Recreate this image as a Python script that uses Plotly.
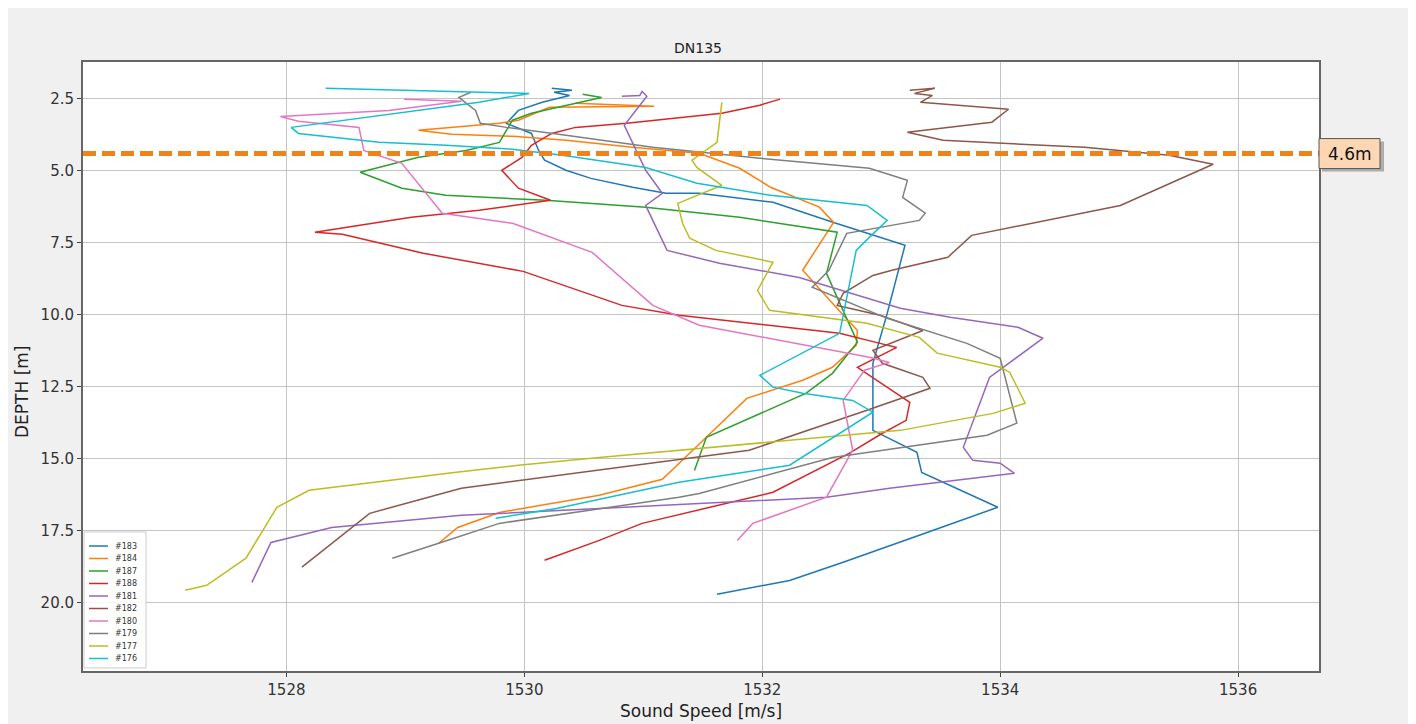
import plotly.graph_objects as go

# ---------------- data ----------------
cast_names = ["#183", "#184", "#187", "#188", "#181", "#182", "#180", "#179", "#177", "#176"]
cast_colors = ["#1f77b4", "#ff7f0e", "#2ca02c", "#d62728", "#9467bd",
               "#8c564b", "#e377c2", "#7f7f7f", "#bcbd22", "#17becf"]

speed_183 = [1530.23, 1530.40, 1530.25, 1530.38, 1530.15, 1529.95, 1529.85, 1530.06, 1530.12, 1530.17,
             1530.35, 1530.56, 1530.91, 1531.19, 1531.47, 1531.81, 1532.09, 1532.60, 1533.20, 1533.05,
             1532.93, 1532.93, 1533.30, 1533.34, 1533.98, 1533.32, 1532.68, 1532.23, 1531.62]
depth_183 = [2.15, 2.22, 2.29, 2.40, 2.64, 2.92, 3.37, 3.72, 4.31, 4.65,
             5.00, 5.28, 5.59, 5.80, 5.80, 5.97, 6.11, 6.81, 7.60, 9.97,
             11.70, 14.03, 14.79, 15.49, 16.70, 17.67, 18.61, 19.24, 19.72]

speed_184 = [1530.43, 1531.09, 1530.21, 1529.95, 1529.79, 1529.11, 1529.39, 1529.90, 1530.35, 1530.91,
             1531.47, 1531.81, 1532.07, 1532.48, 1532.60, 1532.34, 1532.59, 1532.80, 1532.79, 1532.59,
             1532.34, 1531.87, 1531.53, 1531.16, 1530.63, 1529.79, 1529.44, 1529.28]
depth_184 = [2.67, 2.78, 2.81, 3.26, 3.37, 3.61, 3.75, 3.82, 3.96, 4.20,
             4.41, 4.93, 5.59, 6.28, 6.81, 8.47, 9.62, 10.56, 11.08, 11.84,
             12.29, 12.92, 14.27, 15.73, 16.28, 16.88, 17.40, 17.95]

speed_187 = [1530.49, 1530.65, 1530.32, 1530.06, 1529.90, 1529.79, 1529.51, 1529.11, 1528.62, 1528.97,
             1529.34, 1530.18, 1531.02, 1531.81, 1532.63, 1532.54, 1532.69, 1532.80, 1532.59, 1532.37,
             1531.53, 1531.43]
depth_187 = [2.36, 2.47, 2.78, 3.02, 3.26, 4.03, 4.31, 4.55, 5.07, 5.62,
             5.87, 6.04, 6.28, 6.63, 7.15, 8.58, 9.97, 10.97, 12.05, 12.74,
             14.27, 15.42]

speed_188 = [1532.15, 1531.98, 1531.66, 1530.86, 1530.43, 1530.23, 1530.06, 1529.98, 1529.81, 1529.95,
             1530.22, 1529.62, 1529.05, 1528.24, 1528.47, 1529.15, 1529.99, 1530.82, 1531.30, 1532.04,
             1532.65, 1532.99, 1533.13, 1532.80, 1533.24, 1533.21, 1533.01, 1532.73, 1532.09, 1531.56,
             1530.99, 1530.63, 1530.17]
depth_188 = [2.53, 2.74, 3.02, 3.37, 3.51, 3.72, 4.13, 4.55, 5.00, 5.62,
             6.04, 6.39, 6.63, 7.15, 7.22, 7.88, 8.51, 9.69, 10.03, 10.38,
             10.66, 11.01, 11.15, 11.84, 13.06, 13.68, 14.13, 14.83, 16.18, 16.70,
             17.26, 17.85, 18.54]

speed_181 = [1530.82, 1530.97, 1530.99, 1531.03, 1530.84, 1531.02, 1531.16, 1531.02, 1531.20, 1531.64,
             1532.31, 1533.16, 1533.58, 1534.15, 1534.36, 1533.91, 1533.69, 1533.77, 1534.00, 1534.12,
             1533.07, 1532.54, 1530.63, 1529.47, 1528.38, 1527.87, 1527.71]
depth_181 = [2.43, 2.40, 2.26, 2.43, 3.44, 5.00, 5.80, 6.22, 7.78, 8.23,
             8.72, 9.79, 10.10, 10.45, 10.83, 12.19, 14.62, 15.07, 15.17, 15.52,
             16.04, 16.35, 16.74, 16.98, 17.40, 17.92, 19.31]

speed_182 = [1533.24, 1533.45, 1533.28, 1533.43, 1533.33, 1534.07, 1533.93, 1533.22, 1533.52, 1534.71,
             1535.42, 1535.79, 1535.01, 1533.76, 1533.56, 1533.09, 1532.93, 1532.68, 1532.63, 1532.99,
             1533.35, 1532.93, 1533.01, 1533.35, 1533.41, 1532.88, 1531.89, 1530.63, 1529.47, 1528.70,
             1528.13]
depth_182 = [2.22, 2.15, 2.33, 2.40, 2.64, 2.88, 3.33, 3.68, 3.96, 4.20,
             4.48, 4.79, 6.22, 7.26, 8.02, 8.47, 8.65, 9.27, 9.69, 10.03,
             10.56, 11.25, 11.70, 12.19, 12.57, 13.33, 14.72, 15.42, 16.04, 16.91,
             18.78]

speed_180 = [1528.99, 1529.47, 1528.86, 1527.95, 1528.10, 1528.61, 1528.65, 1528.97, 1529.31, 1529.90,
             1530.57, 1531.08, 1531.47, 1532.04, 1532.90, 1533.07, 1532.86, 1532.68, 1532.76, 1532.54,
             1531.92, 1531.79]
depth_180 = [2.53, 2.60, 2.92, 3.13, 3.30, 3.51, 4.31, 4.76, 6.49, 6.84,
             7.85, 9.69, 10.38, 10.83, 11.49, 11.67, 11.94, 12.99, 14.72, 16.35,
             17.26, 17.85]

speed_179 = [1529.55, 1529.45, 1529.51, 1529.59, 1529.63, 1529.85, 1530.35, 1531.08, 1531.98, 1532.90,
             1533.22, 1533.18, 1533.37, 1533.32, 1532.71, 1532.56, 1532.42, 1533.05, 1533.72, 1534.00,
             1534.14, 1533.89, 1532.59, 1531.47, 1531.30, 1529.79, 1529.28, 1528.89]
depth_179 = [2.29, 2.47, 2.67, 2.92, 3.37, 3.51, 3.78, 4.20, 4.58, 4.93,
             5.35, 5.94, 6.49, 6.74, 7.19, 8.47, 9.06, 10.14, 11.01, 11.53,
             13.78, 14.20, 14.97, 16.22, 16.35, 17.26, 17.95, 18.47]

speed_177 = [1531.66, 1531.62, 1531.41, 1531.45, 1531.66, 1531.29, 1531.33, 1531.39, 1531.61, 1532.09,
             1531.96, 1532.06, 1532.88, 1533.32, 1533.47, 1534.00, 1534.08, 1534.21, 1533.94, 1533.16,
             1530.63, 1529.95, 1529.41, 1528.19, 1527.92, 1527.66, 1527.33, 1527.15]
depth_177 = [2.64, 4.03, 4.65, 4.90, 5.52, 6.15, 6.84, 7.36, 7.78, 8.19,
             9.17, 9.86, 10.31, 10.80, 11.35, 11.84, 12.01, 13.09, 13.44, 14.03,
             14.97, 15.24, 15.49, 16.11, 16.70, 18.47, 19.41, 19.58]

speed_176 = [1528.33, 1530.04, 1529.62, 1528.92, 1528.04, 1528.10, 1528.78, 1529.34, 1529.90, 1530.32,
             1531.02, 1531.45, 1532.07, 1532.88, 1533.05, 1532.90, 1532.79, 1532.65, 1531.98, 1532.09,
             1532.34, 1532.76, 1532.93, 1532.23, 1531.30, 1530.27, 1529.76]
depth_176 = [2.15, 2.33, 2.64, 3.02, 3.51, 3.72, 4.03, 4.13, 4.27, 4.48,
             4.90, 5.45, 5.87, 6.22, 6.74, 7.33, 7.78, 10.66, 12.12, 12.53,
             12.74, 12.99, 13.40, 15.24, 15.83, 16.74, 17.08]

cast_speeds = [speed_183, speed_184, speed_187, speed_188, speed_181,
               speed_182, speed_180, speed_179, speed_177, speed_176]
cast_depths = [depth_183, depth_184, depth_187, depth_188, depth_181,
               depth_182, depth_180, depth_179, depth_177, depth_176]

x_ticks = [1528, 1530, 1532, 1534, 1536]
y_ticks = [2.5, 5.0, 7.5, 10.0, 12.5, 15.0, 17.5, 20.0]
y_tick_labels = ["2.5", "5.0", "7.5", "10.0", "12.5", "15.0", "17.5", "20.0"]

marker_depth = 4.42
marker_label = "4.6m"

# ---------------- figure ----------------
OFF = 8                      # page body margin
W, H = 1416 - OFF, 724 - OFF
L, T = 83 - OFF, 62 - OFF    # plot area left / top (figure px)
R = W - (1319 - OFF)
B = H - (671 - OFF)
PW, PH = W - L - R, H - T - B


def px_x(p):  # screenshot pixel -> paper x
    return (p - OFF - L) / PW


def px_y(p):  # screenshot pixel -> paper y
    return (H - B - (p - OFF)) / PH


FONT = "DejaVu Sans"
fig = go.Figure()
for name, col, sp, dp in zip(cast_names, cast_colors, cast_speeds, cast_depths):
    fig.add_trace(go.Scatter(x=sp, y=dp, mode="lines", name=name,
                             line=dict(color=col, width=1.5), showlegend=False))

shapes = []
annotations = []

# dashed marker line
shapes.append(dict(type="line", xref="paper", yref="y", x0=0, x1=1,
                   y0=marker_depth, y1=marker_depth,
                   line=dict(color="#f0821e", width=5, dash="13px,6px"), layer="above"))
# label box shadow + box
shapes.append(dict(type="rect", xref="paper", yref="y", xsizemode="pixel", xanchor=1,
                   ysizemode="pixel", yanchor=marker_depth, x0=3, x1=65, y0=-18, y1=12,
                   fillcolor="rgba(90,90,90,0.45)", line=dict(width=0), layer="above"))
shapes.append(dict(type="rect", xref="paper", yref="y", xsizemode="pixel", xanchor=1,
                   ysizemode="pixel", yanchor=marker_depth, x0=0, x1=61, y0=-15, y1=15,
                   fillcolor="#fdd6b3", line=dict(color="#555555", width=1), layer="above"))
annotations.append(dict(x=1, xref="paper", y=marker_depth, yref="y", xshift=31,
                        text=marker_label, showarrow=False, xanchor="center", yanchor="middle",
                        font=dict(family=FONT, size=17, color="#111111")))

# compact legend
shapes.append(dict(type="rect", xref="paper", yref="paper", x0=px_x(84), x1=px_x(146),
                   y0=px_y(668), y1=px_y(532), fillcolor="rgba(255,255,255,0.85)",
                   line=dict(color="#cccccc", width=1), layer="above"))
for i, (name, col) in enumerate(zip(cast_names, cast_colors)):
    yy = px_y(546 + 12.5 * i)
    shapes.append(dict(type="line", xref="paper", yref="paper", x0=px_x(89), x1=px_x(108),
                       y0=yy, y1=yy, line=dict(color=col, width=1.5), layer="above"))
    annotations.append(dict(x=px_x(113), y=yy, xref="paper", yref="paper", text=name,
                            showarrow=False, xanchor="left", yanchor="middle",
                            font=dict(family=FONT, size=8, color="#333333")))

# axis titles
annotations.append(dict(x=0.5, y=px_y(711), xref="paper", yref="paper", text="Sound Speed [m/s]",
                        showarrow=False, xanchor="center", yanchor="middle",
                        font=dict(family=FONT, size=17, color="#222222")))
annotations.append(dict(x=px_x(22), y=px_y(392), xref="paper", yref="paper", text="DEPTH [m]",
                        showarrow=False, textangle=-90, xanchor="center", yanchor="middle",
                        font=dict(family=FONT, size=17, color="#222222")))

axis_common = dict(showgrid=True, gridcolor="#c4c4c4", gridwidth=1, zeroline=False,
                   showline=True, linecolor="#666666", linewidth=2, mirror=True,
                   ticks="outside", ticklen=4, tickcolor="#444444",
                   tickfont=dict(family=FONT, size=15, color="#333333"))

fig.update_layout(
    width=W, height=H,
    margin=dict(l=L, r=R, t=T, b=B, autoexpand=False),
    paper_bgcolor="#f0f0f0", plot_bgcolor="white",
    title=dict(text="DN135", x=(698 - OFF) / W, xref="container", xanchor="center",
               y=1 - (48 - OFF) / H, yref="container", yanchor="middle",
               font=dict(family=FONT, size=14, color="#222222")),
    xaxis=dict(range=[1526.29, 1536.68], tickvals=x_ticks, **axis_common),
    yaxis=dict(range=[22.385, 1.24], tickvals=y_ticks, ticktext=y_tick_labels, **axis_common),
    shapes=shapes, annotations=annotations,
    showlegend=False,
)

fig.write_html("out.html")
